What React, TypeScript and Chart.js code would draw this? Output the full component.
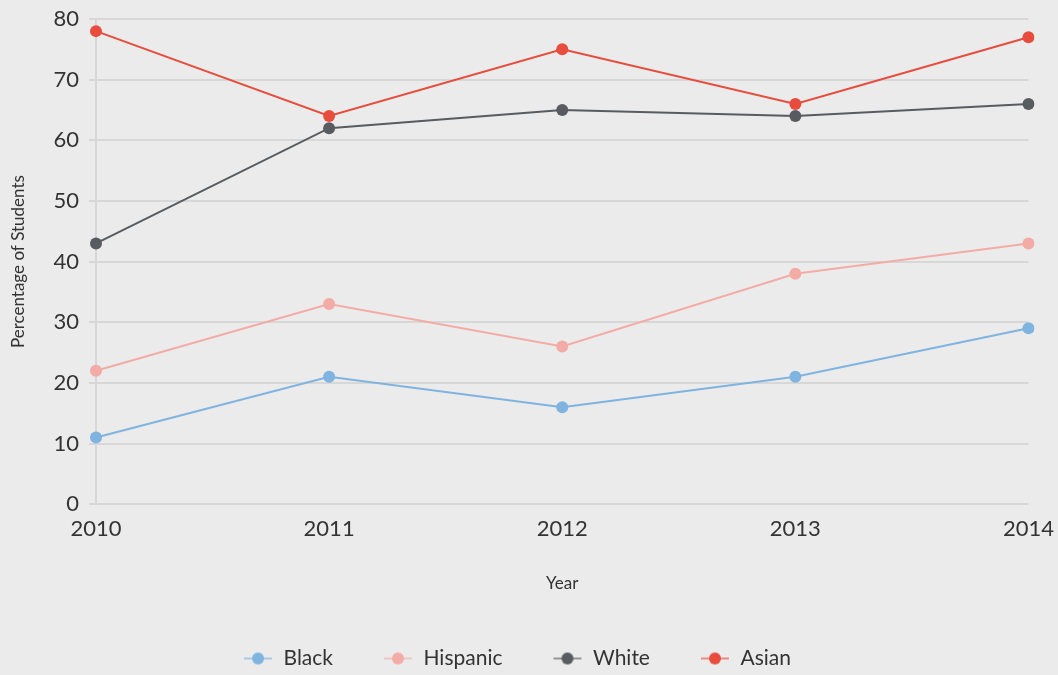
import React, { useEffect, useRef } from "react";
import { Chart, registerables } from "chart.js";

Chart.register(...registerables);

const years = ["2010", "2011", "2012", "2013", "2014"];
const black = [11, 21, 16, 21, 29];
const hispanic = [22, 33, 26, 38, 43];
const white = [43, 62, 65, 64, 66];
const asian = [78, 64, 75, 66, 77];
const seriesNames = ["Black", "Hispanic", "White", "Asian"];
const seriesColors = ["#7fb3e0", "#f3aba6", "#585b5f", "#e84c3d"];
const yTicks = [0, 10, 20, 30, 40, 50, 60, 70, 80];

const FONT = "Lato, 'Open Sans', sans-serif";

function legendMarker(color: string) {
  const c = document.createElement("canvas");
  c.width = 30;
  c.height = 14;
  const ctx = c.getContext("2d")!;
  ctx.strokeStyle = color;
  ctx.globalAlpha = 0.6;
  ctx.lineWidth = 2;
  ctx.beginPath();
  ctx.moveTo(1, 7);
  ctx.lineTo(29, 7);
  ctx.stroke();
  ctx.globalAlpha = 1;
  ctx.fillStyle = color;
  ctx.beginPath();
  ctx.arc(15, 7, 6, 0, Math.PI * 2);
  ctx.fill();
  return c;
}

export default function App() {
  const ref = useRef<HTMLCanvasElement>(null);
  useEffect(() => {
    document.body.style.margin = "0";
    document.body.style.background = "#ebebeb";
    const values = [black, hispanic, white, asian];
    const orders = [3, 2, 1, 0];
    const markers = seriesColors.map(legendMarker);
    const chart = new Chart(ref.current!, {
      type: "line",
      data: {
        labels: years,
        datasets: seriesNames.map((name, i) => ({
          label: name,
          data: values[i],
          borderColor: seriesColors[i],
          backgroundColor: seriesColors[i],
          borderWidth: 2,
          pointRadius: 6,
          pointHoverRadius: 6,
          pointBorderWidth: 0,
          pointStyle: "circle",
          order: orders[i],
          tension: 0,
        })),
      },
      options: {
        animation: false,
        responsive: false,
        layout: { padding: { top: 19, right: 24, left: 0, bottom: -4 } },
        scales: {
          x: {
            type: "category",
            offset: false,
            grid: { display: false },
            border: { display: false },
            ticks: {
              color: "#333",
              font: { family: FONT, size: 22 },
              padding: 4,
              maxRotation: 0,
            },
            title: {
              display: true,
              text: "Year",
              color: "#333",
              font: { family: FONT, size: 17 },
              padding: { top: 27, bottom: 4 },
            },
          },
          y: {
            min: 0,
            max: 80,
            afterBuildTicks: (s: any) => {
              s.ticks = yTicks.map((v) => ({ value: v }));
            },
            afterFit: (s: any) => {
              s.width = 96;
              s.paddingTop = 0;
            },
            grid: {
              color: "#d7d7d7",
              lineWidth: 2,
              tickLength: 7,
            },
            border: { display: true, color: "#d7d7d7", width: 2 },
            ticks: {
              color: "#333",
              font: { family: FONT, size: 22 },
              padding: 10,
            },
            title: {
              display: true,
              text: "Percentage of Students",
              color: "#333",
              font: { family: FONT, size: 17 },
              padding: { top: 8, bottom: 0 },
            },
          },
        },
        plugins: {
          legend: {
            position: "bottom",
            labels: {
              usePointStyle: true,
              pointStyleWidth: 30,
              color: "#333",
              font: { family: FONT, size: 21 },
              padding: 50,
              generateLabels: () =>
                seriesNames.map((n, i) => ({
                  text: n,
                  datasetIndex: i,
                  pointStyle: markers[i],
                  fillStyle: seriesColors[i],
                  strokeStyle: seriesColors[i],
                  lineWidth: 0,
                  fontColor: "#333",
                  hidden: false,
                })),
            },
          },
          tooltip: { enabled: false },
        },
      },
    });
    return () => chart.destroy();
  }, []);
  return (
    <div style={{ width: 1058, height: 675, background: "#ebebeb" }}>
      <canvas ref={ref} width={1058} height={675} style={{ display: "block" }} />
    </div>
  );
}
